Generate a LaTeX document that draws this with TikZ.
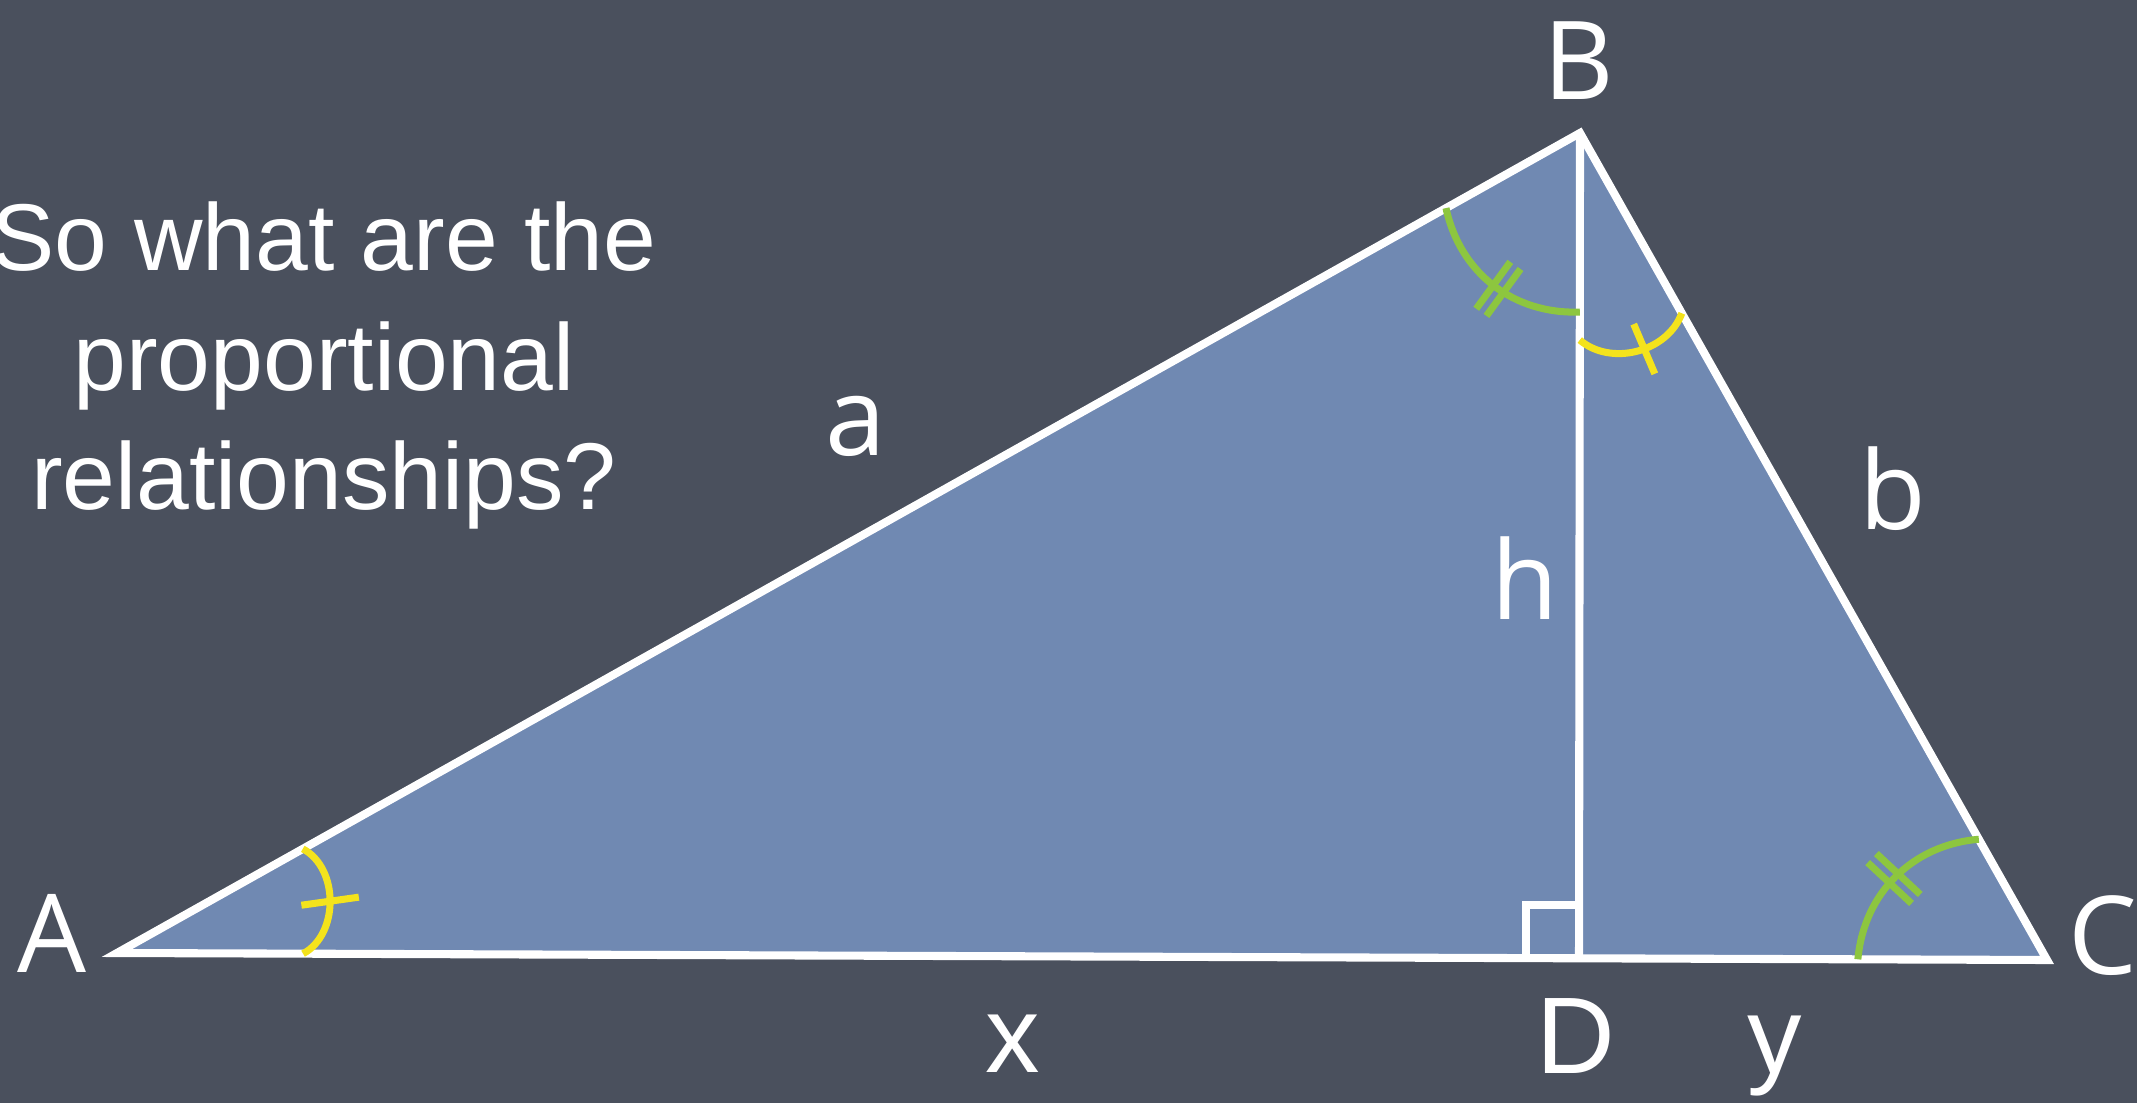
\documentclass[tikz,border=0pt]{standalone}
\usepackage{fontspec}
\setmainfont{Liberation Sans}
\newfontfamily\vertexfont{Open Sans}
\usetikzlibrary{calc}
\definecolor{chalkslate}{HTML}{4A505D}
\definecolor{chalkblue}{HTML}{7089B2}
\definecolor{chalkyellow}{HTML}{F4E31C}
\definecolor{chalkgreen}{HTML}{8DC63F}

\begin{document}
\begin{tikzpicture}[
  edge/.style={draw=white,line width=2.3pt,line join=miter},
  vtx/.style={text=white,inner sep=0pt,anchor=base,font=\vertexfont\fontsize{31}{37}\selectfont},
  len/.style={text=white,inner sep=0pt,anchor=base,font=\fontsize{31}{37}\selectfont},
  ymark/.style={draw=chalkyellow,line width=2pt},
  gmark/.style={draw=chalkgreen,line width=2pt}
]
\useasboundingbox (0,0) rectangle (21.37,11.03);
\fill[chalkslate] (0,0) rectangle (21.37,11.03);

\coordinate (A) at (1.17,1.50);
\coordinate (B) at (15.80,9.70);
\coordinate (C) at (20.47,1.43);
\coordinate (D) at (15.79,1.45);

% triangle and altitude
\fill[chalkblue] (A) -- (B) -- (C) -- cycle;
\draw[edge] (A) -- (B) -- (C) -- cycle;
\draw[edge] (B) -- (D);
\draw[edge,line join=miter] ($(D)+(-0.53,0)$) |- ($(D)+(0,0.53)$);

% angle marks
\draw[ymark] ($(A)!0.0964!(C)$) to[bend right=62] coordinate[pos=0.5] (am) ($(A)!0.127!(B)$);
\draw[ymark] ($(am)+(188:0.29)$) -- ($(am)+(8:0.29)$);

\draw[gmark] ($(B)!0.0916!(A)$) to[bend right=40] coordinate[pos=0.5] (bg1) coordinate[pos=0.57] (bg2) ($(B)!0.217!(D)$);
\foreach \t in {bg1,bg2}
  \draw[gmark] ($(\t)+(54:0.29)$) -- ($(\t)+(234:0.29)$);

\draw[ymark] ($(B)!0.251!(D)$) to[bend right=55] coordinate[pos=0.56] (by) ($(B)!0.218!(C)$);
\draw[ymark] ($(by)+(113:0.27)$) -- ($(by)+(293:0.27)$);

\draw[gmark] ($(C)!0.098!(A)$) to[bend left=40] coordinate[pos=0.45] (cg1) coordinate[pos=0.52] (cg2) ($(C)!0.146!(B)$);
\foreach \t in {cg1,cg2}
  \draw[gmark] ($(\t)+(137:0.3)$) -- ($(\t)+(317:0.3)$);

% labels
\node[vtx] (lblA) at (0.52,1.30) {A};
\node[vtx] (lblB) at (15.79,10.03) {B};
\node[vtx] (lblC) at (21.03,1.28) {C};
\node[vtx] (lbla) at (8.56,6.47) {a};
\node[vtx] (lblb) at (18.93,5.73) {b};
\node[vtx] (lblh) at (15.25,4.83) {h};
\node[len] (lblx) at (10.13,0.31) {x};
\node[len] (lblD) at (15.76,0.30) {D};
\node[len] (lbly) at (17.75,0.30) {y};

\node[text=white,align=center,anchor=base,inner sep=0pt,font=\fontsize{27}{34}\selectfont] (question) at (3.24,5.93) {So what are the\\proportional\\relationships?};
\end{tikzpicture}
\end{document}
